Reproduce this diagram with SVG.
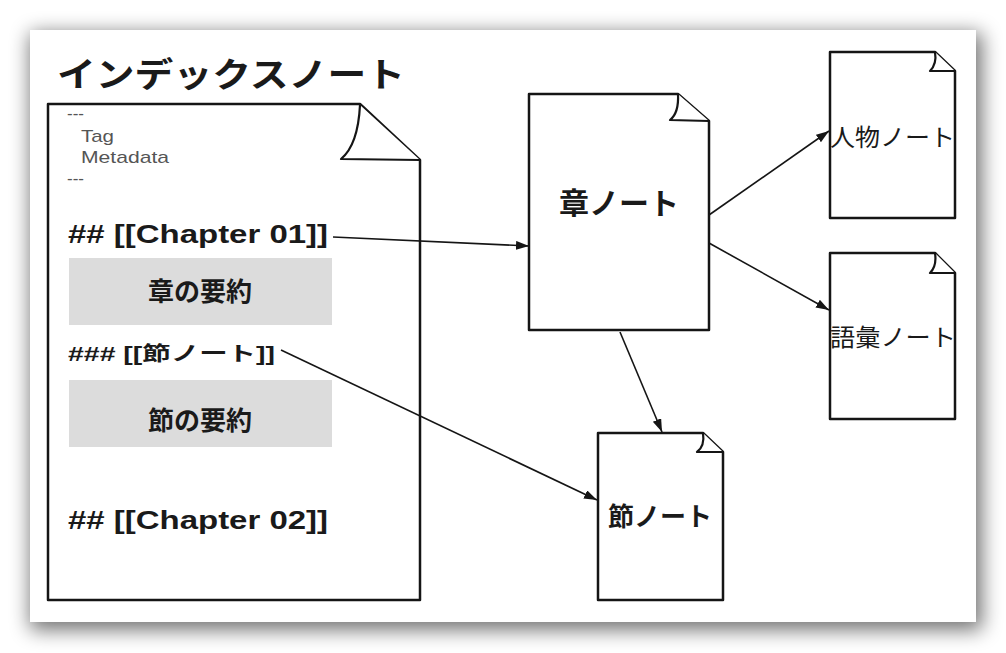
<svg xmlns="http://www.w3.org/2000/svg" width="1006" height="653" viewBox="0 0 1006 653">
<style>
.doc{fill:#fff;stroke:#151515;stroke-width:2.5;stroke-linejoin:round}
.fold{fill:#fff;stroke:#151515;stroke-width:2.2;stroke-linejoin:round}
.t{font-family:"Liberation Sans","Noto Sans CJK JP",sans-serif;fill:#1a1a1a}
.j{font-family:"Noto Sans CJK JP","Liberation Sans",sans-serif;fill:#1a1a1a}
.b{font-weight:bold}
.meta{font-family:"Liberation Sans",sans-serif;fill:#555;font-size:17px}
.box{fill:#dcdcdc}
.conn{stroke:#151515;stroke-width:1.6;fill:none}
</style>
<defs>
<filter id="sh" x="-10%" y="-10%" width="120%" height="120%">
<feGaussianBlur stdDeviation="10"/>
</filter>
<marker id="ah" markerUnits="userSpaceOnUse" markerWidth="14" markerHeight="10" refX="13" refY="4.5" orient="auto">
<path d="M0,0 L13,4.5 L0,9 Z" fill="#151515"/>
</marker>
</defs>
<rect width="1006" height="653" fill="#fff"/>
<rect x="30" y="33" width="952" height="597" fill="#000" opacity="0.55" filter="url(#sh)"/>
<rect x="30" y="30" width="946" height="592" fill="#fff"/>

<text class="j b" x="57" y="87" font-size="34" textLength="348" lengthAdjust="spacingAndGlyphs">インデックスノート</text>

<g id="index-note">
<path class="doc" d="M48,104 L360,104 L420,160 L420,600 L48,600 Z"/>
<path class="fold" d="M360,105 Q358,145 341,159 L420,160"/>
<text class="meta" x="67" y="119" font-size="14">---</text>
<text class="meta" x="81" y="142" textLength="33" lengthAdjust="spacingAndGlyphs">Tag</text>
<text class="meta" x="81" y="163" textLength="88" lengthAdjust="spacingAndGlyphs">Metadata</text>
<text class="meta" x="67" y="184" font-size="14">---</text>
<text class="t b" x="68" y="243" font-size="25" textLength="260" lengthAdjust="spacingAndGlyphs">## [[Chapter 01]]</text>
<rect class="box" x="69" y="258" width="263" height="67"/>
<text class="j b" x="200" y="301" font-size="26" text-anchor="middle" fill="#222">章の要約</text>
<text class="t b" x="68" y="361" font-size="20" textLength="207" lengthAdjust="spacingAndGlyphs">### [[節ノート]]</text>
<rect class="box" x="69" y="380" width="263" height="67"/>
<text class="j b" x="200" y="430" font-size="26" text-anchor="middle" fill="#222">節の要約</text>
<text class="t b" x="68" y="529" font-size="25" textLength="260" lengthAdjust="spacingAndGlyphs">## [[Chapter 02]]</text>
</g>

<g id="chapter-note">
<path class="doc" d="M529,94 L678,94 L709,121 L709,330 L529,330 Z"/>
<path class="fold" d="M678,94 Q679,113 670,120 L709,121"/>
<text class="j b" x="619" y="214" font-size="30" text-anchor="middle">章ノート</text>
</g>

<g id="person-note">
<path class="doc" d="M830,52 L935,52 L955,71 L955,218 L830,218 Z"/>
<path class="fold" d="M935,52 Q937,64 930,71 L955,71"/>
<text class="j" x="830" y="146" font-size="24" textLength="125" lengthAdjust="spacingAndGlyphs">人物ノート</text>
</g>

<g id="vocab-note">
<path class="doc" d="M830,253 L935,253 L955,273 L955,419 L830,419 Z"/>
<path class="fold" d="M935,253 Q937,266 930,273 L955,273"/>
<text class="j" x="830" y="346" font-size="24" textLength="126" lengthAdjust="spacingAndGlyphs">語彙ノート</text>
</g>

<g id="section-note">
<path class="doc" d="M598,433 L703,433 L723,452 L723,600 L598,600 Z"/>
<path class="fold" d="M703,433 Q705,446 697,452 L723,452"/>
<text class="j b" x="660" y="526" font-size="26" text-anchor="middle">節ノート</text>
</g>

<g id="connectors">
<line class="conn" x1="333" y1="237" x2="529" y2="246" marker-end="url(#ah)"/>
<line class="conn" x1="709" y1="215" x2="829" y2="131" marker-end="url(#ah)"/>
<line class="conn" x1="709" y1="243" x2="829" y2="310" marker-end="url(#ah)"/>
<line class="conn" x1="620" y1="332" x2="662" y2="432" marker-end="url(#ah)"/>
<line class="conn" x1="281" y1="350" x2="597" y2="500" marker-end="url(#ah)"/>
</g>
</svg>
